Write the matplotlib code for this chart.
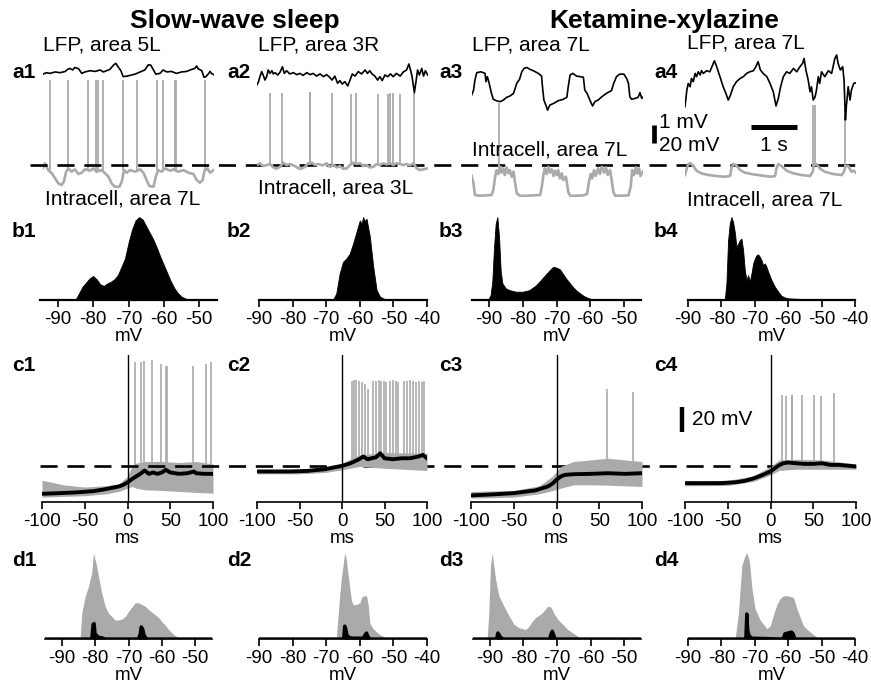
import numpy as np
import matplotlib
matplotlib.use('Agg')
import matplotlib.pyplot as plt

plt.rcParams['font.family'] = ['Liberation Sans', 'DejaVu Sans']
plt.rcParams['axes.unicode_minus'] = False

W, H = 871, 688
fig = plt.figure(figsize=(W / 100, H / 100), dpi=100)
GRAY = '#aaaaaa'

# ---------------- data: row a (traces; time in s, intracell in mV, LFP in mV) -------------
a1_lfp_t = [0.00, 0.09, 0.16, 0.27, 0.38, 0.49, 0.54, 0.59, 0.65, 0.70, 0.78, 0.85, 0.92, 1.03, 1.14, 1.25, 1.32, 1.39, 1.46, 1.54, 1.59, 1.64, 1.70, 1.75, 1.83, 1.90, 2.01, 2.12, 2.22, 2.30, 2.35, 2.41, 2.46, 2.55, 2.62, 2.70, 2.80, 2.91, 3.02, 3.13, 3.24, 3.31, 3.35, 3.38, 3.46, 3.51, 3.55, 3.60, 3.64, 3.67, 3.72]
a1_lfp = [-0.06, 0.02, -0.02, 0.06, 0.02, 0.09, 0.20, 0.26, 0.17, 0.31, 0.24, -0.02, 0.06, 0.13, 0.09, 0.17, 0.06, 0.13, 0.20, 0.44, 0.54, 0.35, 0.13, -0.20, -0.17, -0.13, -0.06, 0.06, 0.17, 0.46, 0.44, 0.17, -0.06, -0.02, 0.17, 0.06, 0.09, -0.02, 0.06, 0.09, 0.20, 0.26, 0.39, 0.24, 0.13, -0.24, -0.20, -0.06, 0.09, -0.02, -0.09]
a1_vm_t = [0.00, 0.05, 0.12, 0.20, 0.27, 0.34, 0.41, 0.46, 0.51, 0.56, 0.63, 0.70, 0.78, 0.85, 0.92, 1.03, 1.10, 1.17, 1.28, 1.36, 1.43, 1.50, 1.57, 1.67, 1.72, 1.77, 1.83, 1.90, 2.01, 2.12, 2.19, 2.26, 2.32, 2.41, 2.46, 2.51, 2.59, 2.66, 2.77, 2.84, 2.95, 3.06, 3.17, 3.28, 3.35, 3.42, 3.48, 3.52, 3.58, 3.64, 3.72]
a1_vm = [-58.7, -53.1, -60.6, -64.3, -69.8, -75.4, -77.2, -73.5, -62.4, -58.7, -62.4, -59.8, -65.0, -63.5, -59.8, -61.3, -58.7, -62.4, -60.6, -64.3, -68.0, -75.4, -79.1, -79.1, -73.5, -60.6, -63.5, -60.6, -62.4, -59.8, -63.5, -71.7, -78.3, -79.1, -68.0, -60.6, -62.4, -58.7, -61.3, -59.8, -62.4, -60.6, -63.5, -65.0, -71.7, -74.6, -71.7, -61.3, -58.7, -63.5, -60.6]
a1_spike_t = [0.15, 0.54, 0.99, 1.17, 1.21, 1.32, 1.75, 2.06, 2.48, 2.61, 2.88, 2.90, 3.53]
a1_spike_peak = [40, 40, 40, 40, 40, 40, 40, 40, 40, 40, 40, 40, 40]

a2_lfp_t = [0.00, 0.04, 0.07, 0.11, 0.14, 0.18, 0.22, 0.25, 0.29, 0.33, 0.36, 0.40, 0.46, 0.51, 0.56, 0.60, 0.65, 0.72, 0.80, 0.87, 0.94, 1.01, 1.09, 1.16, 1.23, 1.30, 1.38, 1.45, 1.52, 1.59, 1.64, 1.70, 1.76, 1.81, 1.86, 1.92, 1.98, 2.03, 2.08, 2.14, 2.21, 2.28, 2.36, 2.41, 2.46, 2.51, 2.57, 2.63, 2.68, 2.73, 2.79, 2.85, 2.91, 2.97, 3.04, 3.12, 3.19, 3.26, 3.31, 3.35, 3.38, 3.43, 3.46, 3.50, 3.54, 3.59, 3.63, 3.67, 3.72]
a2_lfp = [-0.56, -0.37, -0.09, 0.19, 0.00, -0.28, -0.06, 0.28, 0.09, 0.24, 0.06, 0.13, 0.00, 0.17, 0.46, 0.09, 0.24, 0.06, 0.13, 0.02, 0.09, -0.02, 0.13, 0.02, 0.09, -0.06, 0.06, -0.09, 0.02, -0.13, -0.28, -0.06, -0.46, -0.31, -0.50, -0.37, -0.61, -0.28, 0.06, -0.06, 0.19, 0.06, 0.28, 0.09, 0.24, 0.06, -0.06, -0.28, -0.09, -0.31, 0.00, -0.09, 0.06, -0.09, 0.09, -0.06, 0.17, 0.28, 0.61, 0.24, -0.09, -0.98, -0.46, 0.28, 0.00, 0.37, -0.06, 0.24, 0.00]
a2_vm_t = [0.00, 0.07, 0.14, 0.22, 0.29, 0.36, 0.43, 0.51, 0.58, 0.65, 0.72, 0.83, 0.91, 0.98, 1.05, 1.12, 1.20, 1.27, 1.34, 1.43, 1.52, 1.59, 1.67, 1.74, 1.81, 1.88, 1.96, 2.03, 2.10, 2.17, 2.25, 2.32, 2.39, 2.46, 2.54, 2.61, 2.68, 2.75, 2.83, 2.90, 2.97, 3.04, 3.12, 3.19, 3.26, 3.33, 3.41, 3.48, 3.55, 3.62, 3.72]
a2_vm = [-55.0, -53.1, -56.1, -55.0, -53.9, -57.6, -59.1, -56.9, -52.4, -55.0, -53.9, -56.1, -58.7, -59.1, -56.9, -53.1, -52.4, -55.0, -53.9, -55.4, -53.1, -56.9, -55.0, -57.6, -56.1, -59.1, -58.7, -55.0, -52.4, -53.9, -53.1, -56.1, -55.0, -57.6, -56.9, -53.9, -55.0, -53.1, -54.3, -53.1, -55.0, -53.1, -53.9, -55.0, -53.9, -55.4, -53.1, -58.7, -60.6, -59.8, -58.7]
a2_spike_t = [0.29, 0.54, 1.16, 1.17, 1.64, 2.05, 2.16, 2.63, 2.85, 2.91, 2.96, 3.12, 3.42]
a2_spike_peak = [25, 25, 26, 26, 25, 24, 25, 24, 24, 25, 25, 24, 25]

a3_lfp_t = [0.00, 0.04, 0.07, 0.11, 0.20, 0.29, 0.31, 0.34, 0.38, 0.43, 0.47, 0.54, 0.62, 0.69, 0.76, 0.83, 0.91, 0.98, 1.04, 1.09, 1.14, 1.20, 1.27, 1.34, 1.45, 1.52, 1.54, 1.57, 1.62, 1.65, 1.70, 1.78, 1.88, 1.99, 2.07, 2.10, 2.14, 2.20, 2.28, 2.36, 2.43, 2.46, 2.51, 2.57, 2.63, 2.68, 2.75, 2.83, 2.93, 3.04, 3.09, 3.15, 3.22, 3.31, 3.37, 3.41, 3.44, 3.48, 3.55, 3.62, 3.66, 3.70, 3.72]
a3_lfp = [-0.46, -0.19, 0.37, 0.78, 0.83, 0.74, 0.28, 0.56, 0.19, -0.37, -0.70, -0.78, -0.83, -0.74, -0.59, -0.52, -0.37, 0.19, 0.41, 0.83, 1.02, 1.07, 0.96, 0.89, 0.74, 0.59, 0.00, -0.74, -1.07, -1.30, -1.02, -0.93, -0.78, -0.70, -0.59, 0.00, 0.65, 0.74, 0.59, 0.56, 0.52, -0.19, -0.37, -0.74, -1.07, -0.83, -0.74, -0.56, -0.37, -0.22, 0.19, 0.56, 0.70, 0.70, 0.46, 0.19, -0.56, -0.70, -0.65, -0.59, -0.33, -0.65, -0.59]
a3_vm_t = [0.00, 0.04, 0.07, 0.18, 0.33, 0.43, 0.47, 0.51, 0.54, 0.58, 0.62, 0.65, 0.69, 0.72, 0.76, 0.80, 0.83, 0.87, 0.91, 0.94, 0.98, 1.05, 1.20, 1.34, 1.49, 1.52, 1.56, 1.59, 1.63, 1.67, 1.70, 1.74, 1.78, 1.81, 1.85, 1.88, 1.92, 1.96, 1.99, 2.05, 2.10, 2.14, 2.28, 2.43, 2.51, 2.55, 2.59, 2.62, 2.66, 2.70, 2.75, 2.79, 2.83, 2.88, 2.92, 2.96, 3.01, 3.04, 3.08, 3.12, 3.26, 3.41, 3.46, 3.49, 3.53, 3.57, 3.60, 3.64, 3.67, 3.72]
a3_vm = [-67.2, -75.4, -88.3, -89.1, -88.7, -88.3, -82.8, -68.0, -60.6, -65.0, -56.9, -63.5, -58.7, -66.1, -57.6, -64.3, -60.6, -68.0, -62.4, -73.5, -86.5, -89.1, -89.1, -88.7, -88.3, -80.9, -66.1, -58.7, -65.0, -56.9, -63.5, -59.8, -67.2, -61.3, -66.1, -60.6, -69.8, -64.3, -71.7, -68.0, -84.6, -89.1, -89.1, -88.7, -87.2, -73.5, -65.0, -69.8, -60.6, -67.2, -58.7, -65.0, -56.9, -63.5, -57.6, -66.1, -60.6, -69.8, -84.6, -89.1, -89.1, -88.7, -79.1, -60.6, -66.1, -57.6, -64.3, -58.7, -67.2, -62.4]
a3_spike_t = [0.60]
a3_spike_peak = [14]

a4_lfp_t = [0.00, 0.04, 0.07, 0.11, 0.14, 0.18, 0.22, 0.25, 0.29, 0.33, 0.36, 0.40, 0.47, 0.54, 0.60, 0.64, 0.69, 0.76, 0.83, 0.89, 0.94, 0.99, 1.05, 1.12, 1.20, 1.27, 1.34, 1.41, 1.49, 1.54, 1.59, 1.64, 1.70, 1.78, 1.85, 1.92, 1.98, 2.03, 2.08, 2.14, 2.21, 2.28, 2.36, 2.43, 2.50, 2.56, 2.59, 2.63, 2.68, 2.72, 2.75, 2.79, 2.83, 2.86, 2.90, 2.93, 2.97, 3.04, 3.12, 3.19, 3.26, 3.30, 3.33, 3.38, 3.43, 3.46, 3.49, 3.51, 3.55, 3.59, 3.62, 3.67, 3.72]
a4_lfp = [-1.48, -0.56, -0.19, -0.37, 0.09, -0.09, 0.37, 0.19, 0.46, 0.28, 0.52, 0.37, 0.52, 0.46, 0.83, 1.07, 0.74, 0.19, -0.37, -0.74, -1.11, -0.83, -0.37, -0.09, 0.09, 0.19, 0.37, 0.46, 0.52, 0.74, 1.02, 0.56, 0.37, 0.19, -0.19, -0.65, -1.44, -1.02, -0.37, 0.19, 0.46, 0.37, 0.65, 0.46, 0.74, 0.93, 1.20, 0.56, 0.00, -0.65, -0.37, -1.11, -0.93, -0.56, 0.19, -0.19, 0.46, 0.19, 0.52, 0.37, 1.20, 1.39, 0.93, 0.56, 0.74, 0.00, -2.22, -1.48, -0.37, -1.11, -0.56, -0.19, -0.15]
a4_vm_t = [0.00, 0.04, 0.07, 0.12, 0.18, 0.25, 0.36, 0.51, 0.69, 0.87, 0.98, 1.01, 1.05, 1.11, 1.20, 1.30, 1.49, 1.70, 1.88, 1.96, 1.99, 2.03, 2.10, 2.21, 2.36, 2.54, 2.72, 2.78, 2.80, 2.86, 2.93, 3.04, 3.22, 3.41, 3.46, 3.49, 3.55, 3.62, 3.67, 3.72]
a4_vm = [-66.1, -58.7, -53.9, -53.1, -56.1, -61.3, -64.3, -66.1, -67.2, -68.0, -67.2, -58.7, -53.9, -55.0, -60.6, -63.5, -65.4, -66.9, -68.0, -67.2, -58.7, -53.9, -56.1, -61.3, -64.3, -66.1, -67.2, -62.4, -55.0, -53.9, -58.7, -62.4, -65.0, -66.1, -62.4, -56.1, -56.1, -62.4, -61.3, -63.5]
a4_spike_t = [2.78, 2.83, 3.49]
a4_spike_peak = [12, 12, 8]

# ---------------- data: row b (membrane potential histograms, normalised) --------------------
b1_mv = [-95, -85, -84, -83, -82, -81, -80, -79, -78, -77, -76, -75, -74, -73, -72, -71, -70, -69, -68, -67, -66, -65, -64, -63, -62, -61, -60, -59, -58, -57, -56, -55, -54, -53, -45]
b1_frac = [0, 0, 0.08, 0.16, 0.21, 0.26, 0.29, 0.25, 0.19, 0.17, 0.20, 0.22, 0.25, 0.30, 0.40, 0.50, 0.69, 0.85, 0.96, 1.0, 0.97, 0.89, 0.81, 0.73, 0.63, 0.52, 0.42, 0.32, 0.22, 0.14, 0.08, 0.04, 0.02, 0, 0]
b2_mv = [-90, -68, -67, -66, -65, -64, -63, -62, -61, -60, -59.5, -59, -58.5, -58, -57, -56, -55, -54, -53, -52, -40]
b2_frac = [0, 0, 0.08, 0.32, 0.46, 0.50, 0.56, 0.68, 0.82, 0.96, 0.92, 1.0, 0.95, 0.98, 0.76, 0.40, 0.12, 0.04, 0.02, 0, 0]
b3_mv = [-95, -90.5, -90, -89.5, -89, -88.5, -88, -87.5, -87, -86.5, -86, -85, -84, -83, -82, -80, -78, -76, -74, -72, -71, -70, -69, -68, -67, -66, -65, -64, -63, -62, -61, -60, -58, -45]
b3_frac = [0, 0, 0.02, 0.06, 0.22, 0.62, 0.92, 1.0, 0.76, 0.34, 0.2, 0.14, 0.12, 0.11, 0.10, 0.10, 0.12, 0.18, 0.27, 0.36, 0.40, 0.39, 0.37, 0.31, 0.25, 0.2, 0.15, 0.11, 0.08, 0.05, 0.03, 0.015, 0, 0]
b4_mv = [-90, -79, -78.5, -78, -77.5, -77, -76.5, -76, -75.5, -75, -74.5, -74, -73.5, -73, -72.5, -72, -71.5, -71, -70.5, -70, -69.5, -69, -68.5, -68, -67.5, -67, -66.5, -66, -65, -64, -63, -62, -61, -60, -58, -56, -55, -54, -40]
b4_frac = [0, 0, 0.2, 0.72, 0.92, 1.0, 0.94, 0.82, 0.64, 0.68, 0.72, 0.74, 0.6, 0.36, 0.24, 0.30, 0.22, 0.32, 0.44, 0.5, 0.54, 0.55, 0.52, 0.48, 0.42, 0.44, 0.4, 0.34, 0.24, 0.16, 0.1, 0.05, 0.03, 0.02, 0.016, 0.012, 0.008, 0, 0]

# ---------------- data: row c (triggered averages; time in ms, Vm in mV) ----------------------
c1_t = [-100, -80, -60, -40, -30, -20, -10, -5, 0, 5, 10, 15, 20, 25, 30, 35, 40, 45, 50, 60, 70, 78, 80, 90, 100]
c1_mean = [-72.4, -71.9, -71.3, -70.3, -69.2, -67.9, -66.5, -65.2, -63.3, -60.7, -58.5, -56.4, -53.7, -56.4, -55.3, -56.4, -55.3, -53.2, -55.3, -56.4, -55.9, -54.5, -55.9, -56.4, -56.4]
c1_env_t = [-100, -75, -50, -25, -10, 0, 5, 10, 20, 40, 60, 80, 100]
c1_upper = [-61.5, -65.2, -67.0, -65.9, -64.4, -58.5, -50.5, -47.9, -46.5, -46.5, -47.3, -46.5, -48.4]
c1_lower = [-75.1, -74.5, -74.0, -72.4, -70.5, -67.9, -66.5, -67.9, -69.2, -69.7, -70.5, -71.3, -71.9]
c1_spike_t = [8.4, 16.2, 19.3, 29.0, 39.6, 45.4, 46.6, 76.6, 92.2, 97.6]
c1_spike_peak = [33, 33, 34, 35, 32, 30, 30, 30, 32, 33]

c2_t = [-100, -60, -40, -20, -10, 0, 10, 20, 25, 30, 40, 45, 50, 60, 70, 80, 90, 95, 100]
c2_mean = [-54.5, -54.5, -54.0, -52.7, -51.3, -50.0, -47.9, -44.7, -42.5, -44.7, -43.1, -39.9, -43.9, -44.7, -43.9, -43.9, -42.5, -41.2, -43.9]
c2_env_t = [-100, -50, -20, 0, 20, 50, 100]
c2_upper = [-52.7, -52.7, -51.1, -47.9, -41.2, -39.3, -39.9]
c2_lower = [-56.4, -56.4, -55.3, -53.2, -50.5, -51.9, -53.7]
c2_spike_t = [12, 14, 17, 20, 24, 27, 30, 36, 40, 43, 46, 49, 52, 56, 60, 63, 66, 73, 76, 80, 83, 87, 90, 94, 97]
c2_spike_peak = [18, 19, 19, 18, 17, 16, 12, 18, 18, 19, 18, 18, 17, 18, 19, 18, 17, 18, 18, 19, 18, 17, 18, 17, 18]

c3_t = [-100, -75, -50, -25, -10, -5, 0, 5, 10, 20, 40, 60, 80, 100]
c3_mean = [-73.7, -72.9, -71.9, -69.7, -66.5, -64.4, -61.2, -58.5, -57.2, -56.7, -56.4, -55.9, -56.4, -55.9]
c3_env_t = [-100, -50, -20, -5, 5, 20, 40, 60, 80, 100]
c3_upper = [-70.5, -69.7, -66.0, -58.5, -50.5, -46.5, -45.2, -43.9, -45.2, -46.5]
c3_lower = [-75.9, -75.1, -72.4, -69.9, -67.9, -65.2, -65.2, -65.5, -66.0, -66.5]
c3_spike_t = [59.5, 89.5]
c3_spike_peak = [12.1, 9.5]

c4_t = [-100, -60, -40, -30, -20, -10, 0, 5, 10, 15, 20, 30, 40, 50, 60, 70, 80, 100]
c4_mean = [-63.9, -63.9, -63.1, -62.0, -60.1, -57.5, -54.5, -51.9, -49.5, -47.9, -47.3, -47.9, -48.4, -48.4, -47.9, -49.2, -49.2, -50.5]
c4_env_t = [-100, -50, -20, 0, 10, 30, 60, 100]
c4_upper = [-61.7, -61.7, -58.0, -50.5, -45.2, -44.7, -45.2, -48.4]
c4_lower = [-66.0, -65.7, -62.5, -57.2, -53.7, -52.7, -52.7, -52.7]
c4_spike_t = [13.6, 17.9, 24.6, 25.7, 37.4, 51.1, 58.5, 74.5]
c4_spike_peak = [6.8, 6.0, 6.8, 6.5, 6.8, 6.8, 6.0, 8.7]

# ---------------- data: row d (histograms: all samples in grey, triggered in black) ----------
d1_mv = [-95, -84.5, -84, -83, -82, -81, -80.5, -80, -79.5, -79, -78, -77, -76, -75, -74, -73, -72, -71, -70, -69, -68, -67, -66, -65, -64, -63, -62, -61, -60, -59, -58, -57, -56, -55, -54, -45]
d1_gray = [0, 0, 0.30, 0.49, 0.61, 0.77, 1.0, 0.92, 0.84, 0.73, 0.53, 0.38, 0.30, 0.26, 0.22, 0.22, 0.23, 0.26, 0.32, 0.37, 0.42, 0.42, 0.40, 0.38, 0.34, 0.31, 0.28, 0.25, 0.20, 0.16, 0.11, 0.07, 0.04, 0.01, 0, 0]
d1_blk_mv = [-95, -81, -80.6, -80.3, -80, -79, -78, -77, -67, -66.5, -66.2, -65.8, -65.3, -64.5, -45]
d1_blk = [0, 0, 0.17, 0.18, 0.06, 0.02, 0.015, 0, 0, 0.06, 0.14, 0.12, 0.04, 0, 0]

d2_mv = [-90, -67, -66.5, -66, -65.5, -65, -64.5, -64, -63.5, -63, -62.5, -62, -61, -60, -59.5, -59, -58, -57.5, -57, -56, -55, -54, -53, -52, -51.5, -40]
d2_gray = [0, 0, 0.25, 0.5, 0.7, 0.85, 1.0, 0.92, 0.75, 0.6, 0.45, 0.40, 0.40, 0.42, 0.48, 0.5, 0.5, 0.4, 0.18, 0.12, 0.08, 0.05, 0.03, 0.01, 0, 0]
d2_blk_mv = [-90, -64.8, -64.5, -64.2, -63.8, -63, -62, -59, -58.4, -58, -57.6, -57, -40]
d2_blk = [0, 0, 0.15, 0.12, 0.04, 0.015, 0.01, 0.01, 0.05, 0.07, 0.03, 0, 0]

d3_mv = [-95, -90.8, -90.3, -89.8, -89.3, -88.3, -87.3, -85.8, -84.3, -82.8, -81.3, -79.3, -78.3, -77.3, -76.3, -74.8, -73.8, -72.8, -71.8, -70.8, -69.8, -68.3, -66.8, -65.3, -63.8, -62.8, -45]
d3_gray = [0, 0, 0.3, 0.85, 1.0, 0.7, 0.5, 0.38, 0.27, 0.17, 0.13, 0.11, 0.15, 0.21, 0.25, 0.29, 0.33, 0.38, 0.37, 0.29, 0.23, 0.17, 0.11, 0.07, 0.03, 0, 0]
d3_blk_mv = [-95, -88, -87.6, -87.2, -86.8, -86, -72.2, -71.8, -71.4, -71, -70.5, -45]
d3_blk = [0, 0, 0.07, 0.05, 0.02, 0, 0, 0.06, 0.09, 0.05, 0, 0]

d4_mv = [-90, -75.9, -74.9, -73.9, -72.9, -72.4, -71.6, -70.9, -69.9, -68.4, -67.4, -66.4, -65.4, -64.4, -63.4, -62.4, -61.4, -59.9, -58.4, -57.4, -56.4, -55.4, -53.4, -51.4, -50.5, -40]
d4_gray = [0, 0, 0.3, 0.85, 0.97, 1.0, 0.9, 0.6, 0.35, 0.22, 0.17, 0.12, 0.15, 0.28, 0.4, 0.47, 0.5, 0.5, 0.48, 0.35, 0.25, 0.15, 0.08, 0.02, 0, 0]
d4_blk_mv = [-90, -72.7, -72.4, -72.1, -71.7, -71, -61.5, -61, -60, -59, -58.5, -58, -40]
d4_blk = [0, 0, 0.29, 0.1, 0.04, 0.01, 0, 0.06, 0.07, 0.08, 0.06, 0, 0]

hist_ticks_a = [-90, -80, -70, -60, -50]
hist_ticks_b = [-90, -80, -70, -60, -50, -40]
ms_ticks = [-100, -50, 0, 50, 100]

a_labels_lfp = ['LFP, area 5L', 'LFP, area 3R', 'LFP, area 7L', 'LFP, area 7L']
a_labels_ic = ['Intracell, area 7L', 'Intracell, area 3L', 'Intracell, area 7L', 'Intracell, area 7L']
titles = ['Slow-wave sleep', 'Ketamine-xylazine']

# ---------------- layout helpers ----------------
def px_axes(x0, x1, y0, y1):
    ax = fig.add_axes([x0 / W, 1 - y1 / H, (x1 - x0) / W, (y1 - y0) / H])
    ax.patch.set_alpha(0)
    return ax

def ftext(x, y, s, **kw):
    fig.text(x / W, 1 - y / H, s, **kw)

def style_xaxis(ax):
    for s in ['left', 'right', 'top']:
        ax.spines[s].set_visible(False)
    ax.spines['bottom'].set_linewidth(1.2)
    ax.set_yticks([])
    ax.tick_params(axis='x', direction='out', length=5, width=1.2, labelsize=13.5, pad=3)

FS = 15
THRESH_A = -55
THRESH_C = -50

# ---------------- row a ----------------
a_x0 = [42.7, 256.7, 471.7, 685.0]
a_data = [
    (a1_lfp_t, a1_lfp, a1_vm_t, a1_vm, a1_spike_t, a1_spike_peak, 47.2, -61),
    (a2_lfp_t, a2_lfp, a2_vm_t, a2_vm, a2_spike_t, a2_spike_peak, 45.0, -55),
    (a3_lfp_t, a3_lfp, a3_vm_t, a3_vm, a3_spike_t, a3_spike_peak, 32.0, -60),
    (a4_lfp_t, a4_lfp, a4_vm_t, a4_vm, a4_spike_t, a4_spike_peak, 39.4, -56),
]
a_axes = []
for i, (lt, lv, vt, vv, st, sp, off, foot) in enumerate(a_data):
    ax = px_axes(a_x0[i], a_x0[i] + 171, 40, 205)
    ax.set_xlim(0, 3.72)
    ax.set_ylim(-99.4, 83.9)
    ax.axis('off')
    ax.plot(vt, vv, color=GRAY, lw=1.9, solid_joinstyle='round')
    ax.vlines(st, foot, sp, color=GRAY, lw=1.3)
    ax.plot(lt, off + 20 * np.asarray(lv), color='black', lw=1.2)
    a_axes.append(ax)

a_axes[0].axhline(THRESH_A, xmin=-0.074, xmax=4.78, color='black', lw=1.9,
                  dashes=(6.5, 3.7), clip_on=False, zorder=10)

# scale bars in a4
ax = a_axes[3]
ax.plot([-0.67, -0.67], [-30.6, -10.6], color='black', lw=3.4, clip_on=False, solid_capstyle='butt')
ax.plot([1.43, 2.43], [-13.1, -13.1], color='black', lw=3.6, clip_on=False, solid_capstyle='butt')
ax.text(-0.56, -8.3, '1 mV', fontsize=FS, va='center', ha='left')
ax.text(-0.56, -32.8, '20 mV', fontsize=FS, va='center', ha='left')
ax.text(1.93, -32.8, '1 s', fontsize=FS, va='center', ha='center')

# a labels
lfp_pos = [(43, 45), (258, 45), (472, 45), (687, 43)]
ic_pos = [(45, 199), (258, 188), (472, 150), (687, 200)]
for i in range(4):
    ftext(lfp_pos[i][0], lfp_pos[i][1], a_labels_lfp[i], fontsize=FS, va='center', ha='left')
    ftext(ic_pos[i][0], ic_pos[i][1], a_labels_ic[i], fontsize=FS, va='center', ha='left')

# ---------------- row b ----------------
b_x = [(40, 217), (259, 427), (472, 641), (688, 855)]
b_lims = [(-95, -45), (-90, -40), (-95, -45), (-90, -40)]
b_ticks = [hist_ticks_a, hist_ticks_b, hist_ticks_a, hist_ticks_b]
b_data = [(b1_mv, b1_frac), (b2_mv, b2_frac), (b3_mv, b3_frac), (b4_mv, b4_frac)]
for i in range(4):
    ax = px_axes(b_x[i][0], b_x[i][1], 215, 300)
    mv, fr = b_data[i]
    ax.fill_between(mv, 0, fr, color='black', lw=0.6, edgecolor='black')
    ax.set_xlim(*b_lims[i])
    ax.set_ylim(0, 1.025)
    style_xaxis(ax)
    ax.spines['bottom'].set_linewidth(1.6)
    ax.set_xticks(b_ticks[i])
    ax.set_xlabel('mV', fontsize=13.5, labelpad=0)

# ---------------- row c ----------------
c_x = [(42, 213), (257, 427), (471, 642), (685, 856)]
c_data = [
    (c1_t, c1_mean, c1_env_t, c1_upper, c1_lower, c1_spike_t, c1_spike_peak, -57),
    (c2_t, c2_mean, c2_env_t, c2_upper, c2_lower, c2_spike_t, c2_spike_peak, -48),
    (c3_t, c3_mean, c3_env_t, c3_upper, c3_lower, c3_spike_t, c3_spike_peak, -52),
    (c4_t, c4_mean, c4_env_t, c4_upper, c4_lower, c4_spike_t, c4_spike_peak, -50),
]
c_axes = []
for i, (t, m, et, up, lo, st, sp, foot) in enumerate(c_data):
    ax = px_axes(c_x[i][0], c_x[i][1], 355, 502)
    ax.set_xlim(-100, 100)
    ax.set_ylim(-79, 39)
    ax.fill_between(et, lo, up, color=GRAY, lw=0)
    ax.vlines(st, foot, sp, color=GRAY, lw=1.2)
    ax.axvline(0, color='black', lw=1.0)
    ax.plot(t, m, color='black', lw=2.8)
    style_xaxis(ax)
    ax.set_xticks(ms_ticks)
    ax.set_xlabel('ms', fontsize=13.5, labelpad=0)
    c_axes.append(ax)

c_axes[0].axhline(THRESH_C, xmin=-0.012, xmax=4.76, color='black', lw=1.9,
                  dashes=(6.5, 3.7), clip_on=False, zorder=10)
ax = c_axes[3]
ax.plot([-103.5, -103.5], [-22.6, -2.6], color='black', lw=3.2, clip_on=False, solid_capstyle='butt')
ax.text(-92, -12.4, '20 mV', fontsize=FS, va='center', ha='left')

# ---------------- row d ----------------
d_x = [(45, 212), (259, 427), (473, 641), (688, 855)]
d_data = [(d1_mv, d1_gray, d1_blk_mv, d1_blk), (d2_mv, d2_gray, d2_blk_mv, d2_blk),
          (d3_mv, d3_gray, d3_blk_mv, d3_blk), (d4_mv, d4_gray, d4_blk_mv, d4_blk)]
for i in range(4):
    ax = px_axes(d_x[i][0], d_x[i][1], 551, 639)
    mv, g, bmv, b = d_data[i]
    ax.fill_between(mv, 0, g, color=GRAY, lw=0)
    ax.fill_between(bmv, 0, b, color='black', lw=0)
    ax.plot(bmv, b, color='black', lw=2.4)
    ax.set_xlim(*b_lims[i])
    ax.set_ylim(0, 1.02)
    style_xaxis(ax)
    ax.set_xticks(b_ticks[i])
    ax.set_xlabel('mV', fontsize=13.5, labelpad=0)

# ---------------- titles and panel letters ----------------
ftext(235, 21, titles[0], fontsize=19, fontweight='bold', ha='center', va='center')
ftext(664, 21, titles[1], fontsize=19, fontweight='bold', ha='center', va='center')

letters_x = [12, 227, 439, 654]
rows = [('a', 72), ('b', 232), ('c', 365), ('d', 560)]
for r, y in rows:
    for j in range(4):
        ftext(letters_x[j], y, f'{r}{j + 1}', fontsize=15, fontweight='bold', ha='left', va='center')

fig.savefig('out.png', dpi=100)
